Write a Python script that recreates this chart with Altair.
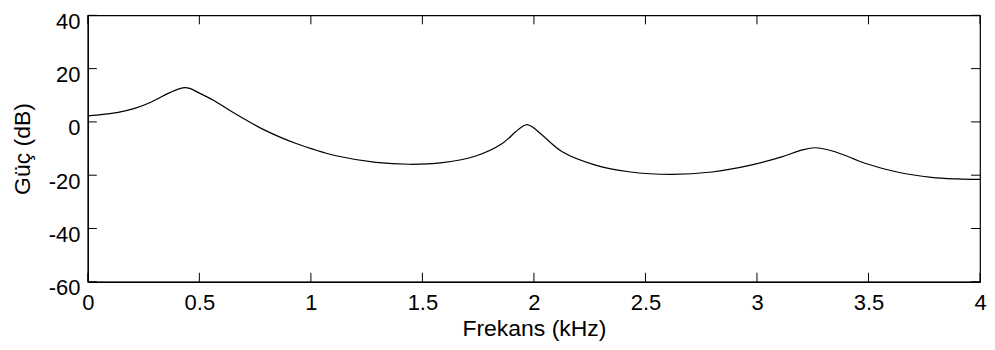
import altair as alt
import pandas as pd

# Curve (frequency in kHz, power in dB)
freq = [0.0, 0.07, 0.136, 0.21, 0.285, 0.36, 0.412, 0.435, 0.46, 0.5, 0.561,
        0.635, 0.71, 0.784, 0.859, 0.934, 1.008, 1.113, 1.292, 1.441, 1.59, 1.739,
        1.858, 1.918, 1.95, 1.97, 1.995, 2.037, 2.127, 2.276, 2.425, 2.619,
        2.798, 2.962, 3.111, 3.2, 3.26, 3.35, 3.484, 3.633, 3.782, 3.9, 4.0]
power = [2.3, 2.8, 3.6, 5.1, 7.5, 10.7, 12.5, 12.9, 12.5, 10.8, 8.2,
         4.4, 0.7, -2.7, -5.6, -8.1, -10.2, -12.7, -15.2, -15.9, -15.3, -12.8,
         -8.1, -3.7, -1.6, -1.0, -2.0, -4.9, -11.2, -16.2, -18.7, -19.7,
         -18.8, -16.4, -13.1, -10.6, -9.7, -11.2, -15.5, -18.9, -20.8, -21.4, -21.6]

x_ticks = [0, 0.5, 1, 1.5, 2, 2.5, 3, 3.5, 4]
y_ticks = [-60, -40, -20, 0, 20, 40]

W, H, T = 894, 267, 9

df = pd.DataFrame({"f": freq, "p": power})
dx = pd.DataFrame({"f": x_ticks})
dy = pd.DataFrame({"p": y_ticks})

xs = alt.Scale(domain=[0, 4], nice=False, zero=False)
ys = alt.Scale(domain=[-60, 40], nice=False, zero=False)

lbl = "datum.value < 0 ? '-' + abs(datum.value) : '' + datum.value"

line = alt.Chart(df).mark_line(color="black", strokeWidth=1.2, interpolate="catmull-rom").encode(
    x=alt.X("f:Q", scale=xs, axis=alt.Axis(values=x_ticks, title="Frekans (kHz)", tickSize=0,
                                           labelPadding=11, titlePadding=4, labelFlush=False,
                                           labelOverlap=False, grid=False, labelExpr=lbl)),
    y=alt.Y("p:Q", scale=ys, axis=alt.Axis(values=y_ticks, title="Güç (dB)", tickSize=0,
                                           labelPadding=8, titlePadding=14, labelFlush=False,
                                           labelOverlap=False, labelOffset=6, grid=False,
                                           labelExpr=lbl)),
)

xt_bottom = alt.Chart(dx).mark_rule(color="black").encode(
    x=alt.X("f:Q", scale=xs), y=alt.value(H), y2=alt.value(H - T))
xt_top = alt.Chart(dx).mark_rule(color="black").encode(
    x=alt.X("f:Q", scale=xs), y=alt.value(0), y2=alt.value(T))
yt_left = alt.Chart(dy).mark_rule(color="black").encode(
    y=alt.Y("p:Q", scale=ys), x=alt.value(0), x2=alt.value(T))
yt_right = alt.Chart(dy).mark_rule(color="black").encode(
    y=alt.Y("p:Q", scale=ys), x=alt.value(W), x2=alt.value(W - T))

chart = alt.layer(line, xt_bottom, xt_top, yt_left, yt_right).properties(
    width=W, height=H,
    autosize=alt.AutoSizeParams(type="none"),
    padding={"left": 80, "top": 7, "right": 7, "bottom": 60},
).configure_view(stroke="black", strokeWidth=1.2).configure_axis(
    labelFont="Liberation Sans", titleFont="Liberation Sans",
    labelFontSize=22, titleFontSize=23, titleFontWeight="normal",
    labelColor="black", titleColor="black", domainColor="black", domainWidth=1.2,
)

chart.save("out.html", embed_options={"renderer": "svg", "actions": False})
